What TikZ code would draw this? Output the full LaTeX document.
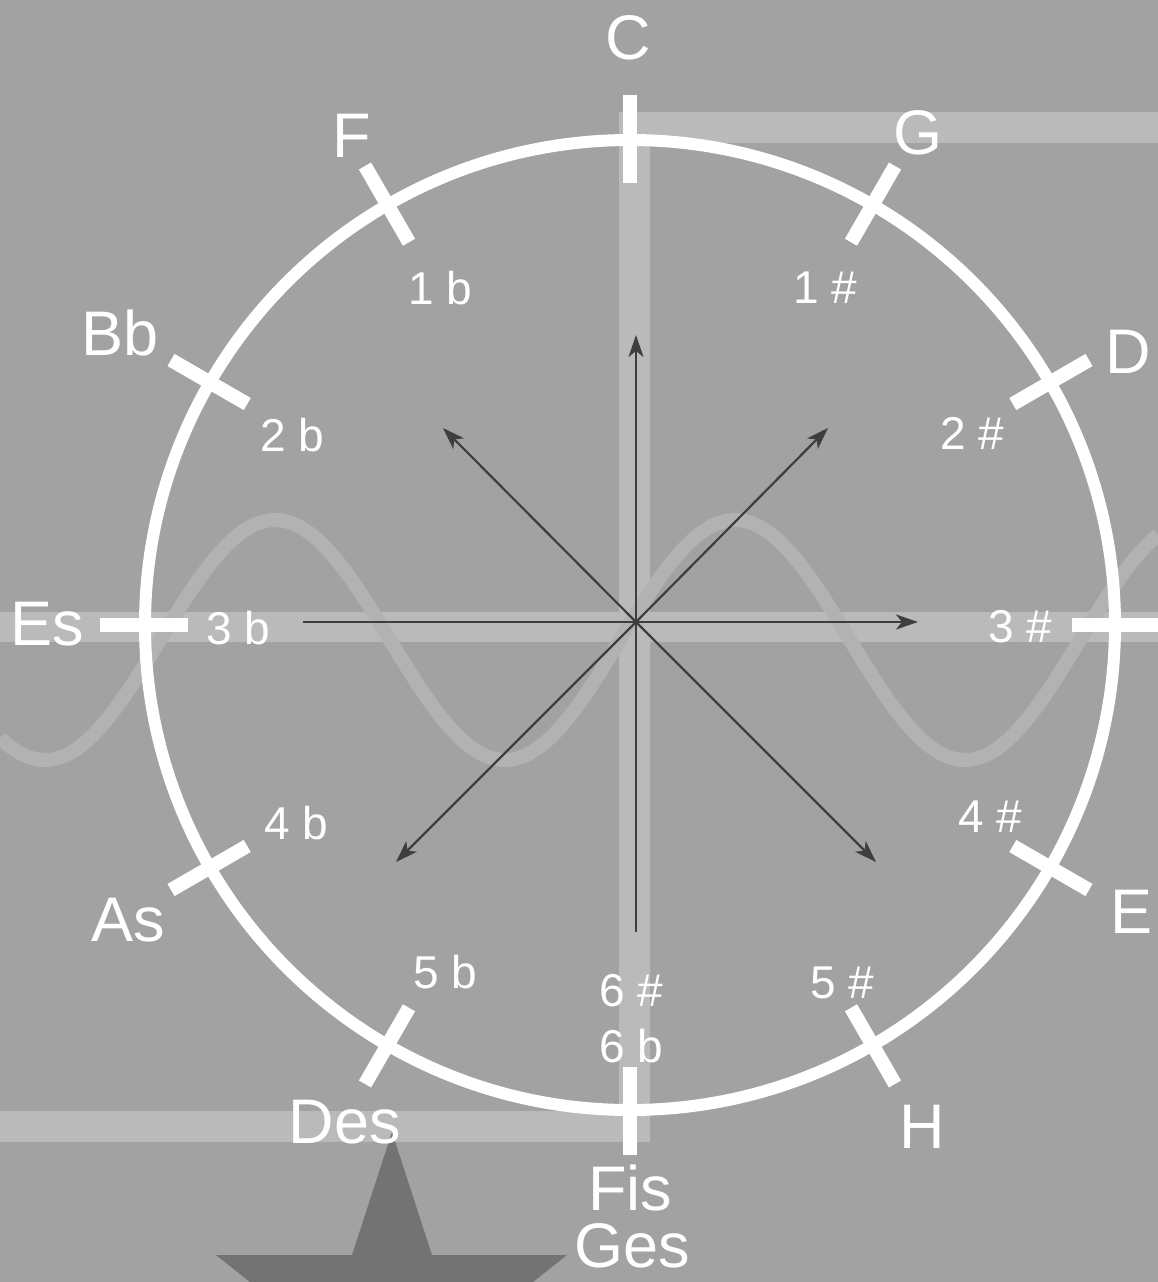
\documentclass[tikz,border=0pt]{standalone}
\usepackage{fontspec}
\setmainfont{Liberation Sans}
\usetikzlibrary{arrows.meta}
\definecolor{bgc}{RGB}{162,162,162}
\definecolor{bandc}{RGB}{186,186,186}
\definecolor{wavec}{RGB}{178,178,178}
\definecolor{starc}{RGB}{115,115,115}
\definecolor{arrowc}{RGB}{62,62,62}
\begin{document}
\begin{tikzpicture}[x=1pt,y=-1pt,
  outer/.style={text=white,font=\fontsize{63}{63}\selectfont,inner sep=0pt},
  inlab/.style={text=white,font=\fontsize{46}{46}\selectfont,inner sep=0pt},
  ray/.style={draw=arrowc,line width=2.2pt},
  tipray/.style={ray,-{Stealth[length=22pt,width=15pt,inset=6pt]}},
  tick/.style={draw=white,line width=14pt},
  ring/.style={draw=white,line width=12pt}]
\fill[bgc] (0,0) rectangle (1158,1282);
\useasboundingbox (0,0) rectangle (1158,1282);
% light bands
\draw[bandc,line width=30pt] (0,627) -- (1158,627);
\draw[bandc,line width=31pt,line join=miter] (0,1126) -- (634,1126) -- (634,127) -- (1158,127);
% wave
\draw[wavec,line width=14pt,domain=0:1158,samples=240,smooth] plot (\x,{640-120*sin((\x-620)/460*360)});
% dark star shape
\fill[starc] (392,1132) -- (432,1255) -- (567,1255) -- (533,1282) -- (250,1282) -- (216,1255) -- (352,1255) -- cycle;
% circle and ticks
\draw[ring] (630,625) circle[radius=485];
\foreach \a in {0,30,...,330}
  \draw[tick] ([shift={(630,625)}]\a:442) -- ([shift={(630,625)}]\a:530);
% rays
\coordinate (O) at (636,622);
\coordinate (pN) at (636,335);
\coordinate (pNE) at (828,428);
\coordinate (pE) at (918,622);
\coordinate (pW) at (303,622);
\coordinate (pNW) at (443,428);
\coordinate (pSW) at (396,862);
\coordinate (pSE) at (876,862);
\coordinate (pS) at (636,932);
\draw[tipray] (O) -- (pN);
\draw[tipray] (O) -- (pNE);
\draw[tipray] (O) -- (pE);
\draw[tipray] (O) -- (pNW);
\draw[tipray] (O) -- (pSW);
\draw[tipray] (O) -- (pSE);
\draw[ray] (O) -- (pW);
\draw[ray] (O) -- (pS);
% outer labels
\node[outer] (C) at (628,38) {C};
\node[outer] (G) at (918,133) {G};
\node[outer] (D) at (1128,352) {D};
\node[outer] (E) at (1131,912) {E};
\node[outer] (H) at (922,1127) {H};
\node[outer] (Fis) at (630,1188) {Fis};
\node[outer] (Ges) at (632,1246) {Ges};
\node[outer] (Des) at (345,1122) {Des};
\node[outer] (As) at (128,920) {As};
\node[outer] (Es) at (47,624) {Es};
\node[outer] (Bb) at (120,333) {Bb};
\node[outer] (F) at (352,136) {F};
% inner labels
\node[inlab] (k1b) at (440,288) {1 b};
\node[inlab] (k1s) at (825,288) {1 \#};
\node[inlab] (k2s) at (972,433) {2 \#};
\node[inlab] (k2b) at (292,435) {2 b};
\node[inlab] (k3b) at (238,628) {3 b};
\node[inlab] (k3s) at (1020,627) {3 \#};
\node[inlab] (k4s) at (990,817) {4 \#};
\node[inlab] (k4b) at (296,823) {4 b};
\node[inlab] (k5b) at (445,972) {5 b};
\node[inlab] (k5s) at (842,983) {5 \#};
\node[inlab] (k6s) at (631,991) {6 \#};
\node[inlab] (k6b) at (631,1046) {6 b};
\end{tikzpicture}
\end{document}
